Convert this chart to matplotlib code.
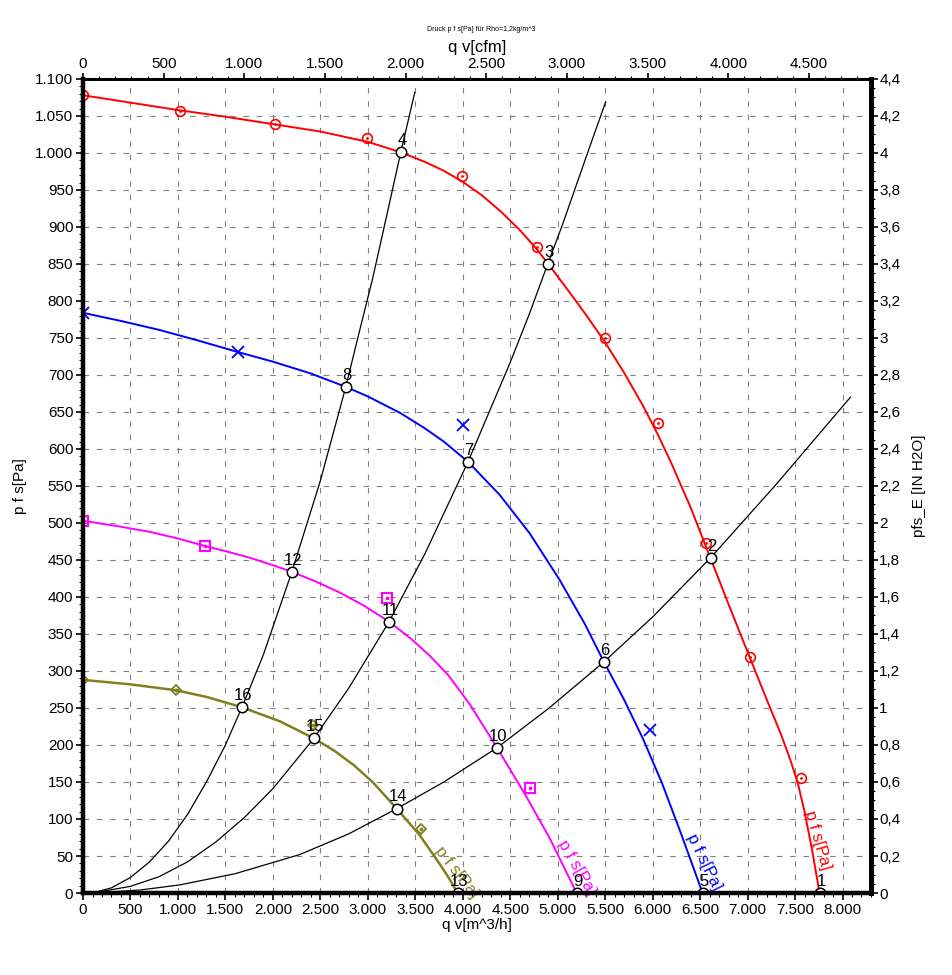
import numpy as np
import matplotlib
matplotlib.use('Agg')
import matplotlib.pyplot as plt
from matplotlib.ticker import MultipleLocator, FuncFormatter

plt.rcParams['font.family'] = ['Liberation Sans', 'DejaVu Sans']

# --> Fan curves p f s[Pa] (line) and measured points (markers)
red_q   = [0, 500, 1000, 1500, 2000, 2500, 3000, 3347, 3600, 3800, 4000, 4200, 4400,
           4600, 4779, 4895, 5100, 5300, 5495, 5700, 5900, 6053, 6200, 6400, 6611,
           6800, 7021, 7200, 7350, 7450, 7530, 7600, 7680, 7758]
red_p   = [1078, 1068, 1058, 1049, 1039, 1029, 1015, 1001, 988, 976, 961, 943, 921,
           896, 870, 851, 816, 781, 745, 703, 658, 620, 580, 521, 452,
           390, 319, 262, 215, 180, 148, 110, 58, 0]
red_mq  = [0, 1021, 2021, 2989, 3989, 4779, 5495, 6053, 6558, 7021, 7558, 7758]
red_mp  = [1078, 1057, 1039, 1020, 969, 873, 750, 635, 473, 319, 155, 0]

blue_q  = [0, 400, 800, 1200, 1632, 2000, 2400, 2768, 3000, 3337, 3600, 3800, 4053,
           4389, 4705, 5021, 5284, 5484, 5700, 5900, 6100, 6300, 6526]
blue_p  = [784, 773, 761, 747, 731, 718, 702, 684, 671, 649, 628, 610, 583,
           538, 486, 423, 364, 313, 261, 208, 148, 80, 0]
blue_mq = [0, 1632, 4000, 5968]
blue_mp = [784, 731, 632, 220]

mag_q   = [0, 350, 705, 1000, 1284, 1500, 1758, 2000, 2200, 2450, 2705, 2950, 3221,
           3450, 3650, 3850, 4074, 4358, 4653, 4916, 5200]
mag_p   = [503, 496, 488, 479, 469, 462, 453, 443, 434, 421, 406, 389, 367,
           344, 321, 294, 255, 197, 134, 74, 0]
mag_mq  = [0, 1284, 3200, 4705]
mag_mp  = [503, 469, 398, 142]

olv_q   = [0, 495, 979, 1300, 1674, 2074, 2432, 2650, 2850, 3050, 3305, 3547, 3758, 3850, 3947]
olv_p   = [288, 282, 274, 265, 251, 232, 209, 192, 173, 150, 114, 78, 39, 21, 0]
olv_mq  = [0, 979, 2421, 3558]
olv_mp  = [288, 274, 227, 86]

# --> System curves
sysA_q = [100, 300, 500, 700, 900, 1100, 1300, 1500, 1674, 1900, 2200, 2500, 2768,
          2900, 3050, 3200, 3347, 3495]
sysA_p = [0, 7, 21, 42, 70, 106, 150, 200, 251, 322, 434, 557, 684,
          753, 830, 916, 1001, 1082]
sysB_q = [100, 500, 800, 1100, 1400, 1700, 2000, 2432, 2800, 3221, 3600, 4053, 4500,
          4700, 4895, 5050, 5200, 5350, 5505]
sysB_p = [0, 9, 22, 42, 69, 102, 141, 209, 277, 366, 458, 582, 717,
          782, 850, 903, 958, 1013, 1069]
sysC_q = [100, 600, 1021, 1600, 2284, 2800, 3305, 3800, 4358, 4900, 5484, 6000, 6611, 7300, 8084]
sysC_p = [0, 4, 11, 26, 52, 80, 114, 150, 196, 249, 312, 373, 453, 552, 670]

# --> Operating points
op_num = ['1', '2', '3', '4', '5', '6', '7', '8', '9', '10', '11', '12', '13', '14', '15', '16']
op_q   = [7758, 6611, 4895, 3347, 6526, 5484, 4053, 2768, 5200, 4358, 3221, 2200, 3947, 3305, 2432, 1674]
op_p   = [0, 453, 850, 1001, 0, 312, 582, 684, 0, 196, 366, 434, 0, 114, 209, 251]

# --> Curve labels (q, p, rotation)
lab_text = 'p f s[Pa]'
lab_q    = [7737, 6537, 5200, 3937]
lab_p    = [72, 42, 34, 28]
lab_rot  = [-74, -64, -60, -52]

RED, BLUE, MAG, OLV = '#ff0000', '#0000ff', '#ff00ff', '#808020'
Q_MAX, P_MAX = 8300, 1100

fig = plt.figure(figsize=(9.52, 9.75), dpi=100)
ax = fig.add_axes([0.0872, 0.0841, 0.8277, 0.8349])

ax.set_xlim(0, Q_MAX)
ax.set_ylim(0, P_MAX)

# system curves
for q, p in [(sysA_q, sysA_p), (sysB_q, sysB_p), (sysC_q, sysC_p)]:
    ax.plot(q, p, color='black', lw=0.9, zorder=3)

# fan curves
ax.plot(red_q, red_p, color=RED, lw=1.4, zorder=4)
ax.plot(red_mq, red_mp, ls='none', marker='o', ms=7, mfc='none', mec=RED, mew=1.2, zorder=5)
ax.plot(red_mq, red_mp, ls='none', marker='.', ms=2, color=RED, zorder=5)

ax.plot(blue_q, blue_p, color=BLUE, lw=1.4, zorder=4)
ax.plot(blue_mq, blue_mp, ls='none', marker='x', ms=8, mec=BLUE, mew=1.3, zorder=5)

ax.plot(mag_q, mag_p, color=MAG, lw=1.4, zorder=4)
ax.plot(mag_mq, mag_mp, ls='none', marker='s', ms=7, mfc='none', mec=MAG, mew=1.5, zorder=5)
ax.plot(mag_mq, mag_mp, ls='none', marker='s', ms=2, color=MAG, zorder=5)

ax.plot(olv_q, olv_p, color=OLV, lw=1.8, zorder=4)
ax.plot(olv_mq, olv_mp, ls='none', marker='D', ms=5.5, mfc='none', mec=OLV, mew=1.3, zorder=5)
ax.plot(olv_mq, olv_mp, ls='none', marker='D', ms=1.5, color=OLV, zorder=5)

# operating points
ax.plot(op_q, op_p, ls='none', marker='o', ms=7.5, mfc='white', mec='black', mew=1.1, zorder=6)
for n, q, p in zip(op_num, op_q, op_p):
    ax.annotate(n, (q, p), xytext=(1, 3), textcoords='offset points',
                ha='center', va='bottom', fontsize=12, zorder=7)

# curve labels
for c, q, p, r in zip([RED, BLUE, MAG, OLV], lab_q, lab_p, lab_rot):
    ax.text(q, p, lab_text, color=c, rotation=r, fontsize=12,
            ha='center', va='center', rotation_mode='anchor', zorder=6)

# grid + main ticks
ax.xaxis.set_major_locator(MultipleLocator(500))
ax.xaxis.set_minor_locator(MultipleLocator(100))
ax.yaxis.set_major_locator(MultipleLocator(50))
ax.yaxis.set_minor_locator(MultipleLocator(10))
ax.grid(True, which='major', color='#808080', ls=(0, (5, 7)), lw=0.8)

thousands = FuncFormatter(lambda v, pos: f"{int(round(v)):,}".replace(',', '.'))
ax.xaxis.set_major_formatter(thousands)
ax.yaxis.set_major_formatter(thousands)
ax.tick_params(which='major', length=5, width=1.2, labelsize=11, pad=2)
ax.tick_params(which='minor', length=3, width=0.8)

ax.set_xlabel('q v[m^3/h]', fontsize=11, labelpad=1)
ax.set_ylabel('p f s[Pa]', fontsize=11, labelpad=6)

# top axis in cfm
top = ax.twiny()
top.set_xlim(0, Q_MAX / 1.699)
top.xaxis.set_major_locator(MultipleLocator(500))
top.xaxis.set_minor_locator(MultipleLocator(100))
top.xaxis.set_major_formatter(thousands)
top.tick_params(which='major', length=4, width=1.2, labelsize=11, pad=2)
top.tick_params(which='minor', length=2, width=0.8)
top.set_xlabel('q v[cfm]', fontsize=12, labelpad=3)

# right axis in IN H2O
right = ax.twinx()
right.set_ylim(0, P_MAX / 250.0)
right.yaxis.set_major_locator(MultipleLocator(0.2))
right.yaxis.set_minor_locator(MultipleLocator(0.05))
right.yaxis.set_major_formatter(FuncFormatter(lambda v, pos: f"{round(v, 1):g}".replace('.', ',')))
right.tick_params(which='major', length=5, width=1.2, labelsize=11, pad=1)
right.tick_params(which='minor', length=3, width=0.8)
right.set_ylabel('pfs_E [IN H2O]', fontsize=11, labelpad=8)

for a in (ax, top, right):
    for side, w in [('left', 3), ('bottom', 3), ('right', 3.5), ('top', 2)]:
        a.spines[side].set_linewidth(w)

fig.text(0.506, 0.970, 'Druck p f s[Pa] für Rho=1,2kg/m^3', fontsize=5, ha='center', va='center')

fig.savefig('out.png', dpi=100)
